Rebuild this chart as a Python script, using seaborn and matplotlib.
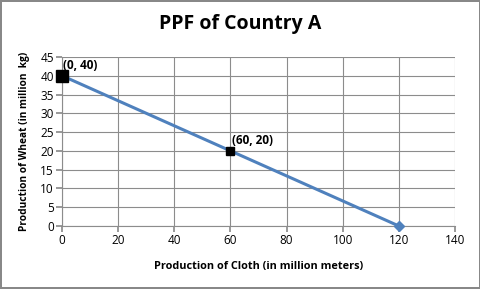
import matplotlib
matplotlib.use("Agg")
import matplotlib.pyplot as plt
import pandas as pd
import seaborn as sns

# PPF endpoints and labelled points
cloth = [0, 60, 120]
wheat = [40, 20, 0]
labels = ["(0, 40)", "(60, 20)", ""]
x_ticks = [0, 20, 40, 60, 80, 100, 120, 140]
y_ticks = [0, 5, 10, 15, 20, 25, 30, 35, 40, 45]

sns.set_theme(style="white")
plt.rcParams["font.family"] = ["Open Sans", "DejaVu Sans"]
plt.rcParams["text.color"] = "black"
plt.rcParams["axes.labelcolor"] = "black"
plt.rcParams["xtick.color"] = "#8c8c8c"
plt.rcParams["ytick.color"] = "#8c8c8c"

df = pd.DataFrame({"cloth": cloth, "wheat": wheat, "label": labels})

fig = plt.figure(figsize=(4.81, 2.89), dpi=100)
fig.patch.set_edgecolor("#888888")
fig.patch.set_linewidth(1.5)
ax = fig.add_axes([0.129, 0.218, 0.817, 0.585])

sns.lineplot(data=df, x="cloth", y="wheat", color="#4F81BD", linewidth=2.2, ax=ax)
ax.plot(df["cloth"].iloc[0], df["wheat"].iloc[0], marker="s", color="black", markersize=8, clip_on=False, zorder=5)
ax.plot(df["cloth"].iloc[1], df["wheat"].iloc[1], marker="s", color="black", markersize=5.5, zorder=5)
ax.plot(df["cloth"].iloc[2], df["wheat"].iloc[2], marker="D", color="#4F81BD", markersize=5, clip_on=False, zorder=5)

for _, r in df.iterrows():
    if r["label"]:
        ax.annotate(r["label"], (r["cloth"], r["wheat"]), xytext=(1, 3), textcoords="offset points",
                    fontsize=8.5, fontweight="bold", ha="left", va="bottom", color="black")

ax.set_xlim(0, 140)
ax.set_ylim(0, 45)
ax.set_xticks(x_ticks)
ax.set_yticks(y_ticks)
ax.grid(True, color="#8c8c8c", linewidth=0.8)
ax.set_axisbelow(True)
for s in ["top", "right"]:
    ax.spines[s].set_visible(False)
for s in ["left", "bottom"]:
    ax.spines[s].set_color("#8c8c8c")
    ax.spines[s].set_linewidth(0.8)
ax.tick_params(axis="both", labelsize=8.5, length=4, direction="out", bottom=True, left=True, pad=2,
               labelcolor="black")
ax.set_xlabel("Production of Cloth (in million meters)", fontsize=7.8, fontweight="bold", labelpad=10)
ax.set_ylabel("Production of Wheat (in million  kg)", fontsize=7.3, fontweight="bold", labelpad=7)
fig.suptitle("PPF of Country A", fontsize=14, fontweight="bold", y=0.95)

fig.savefig("out.png", dpi=100, edgecolor=fig.get_edgecolor())
